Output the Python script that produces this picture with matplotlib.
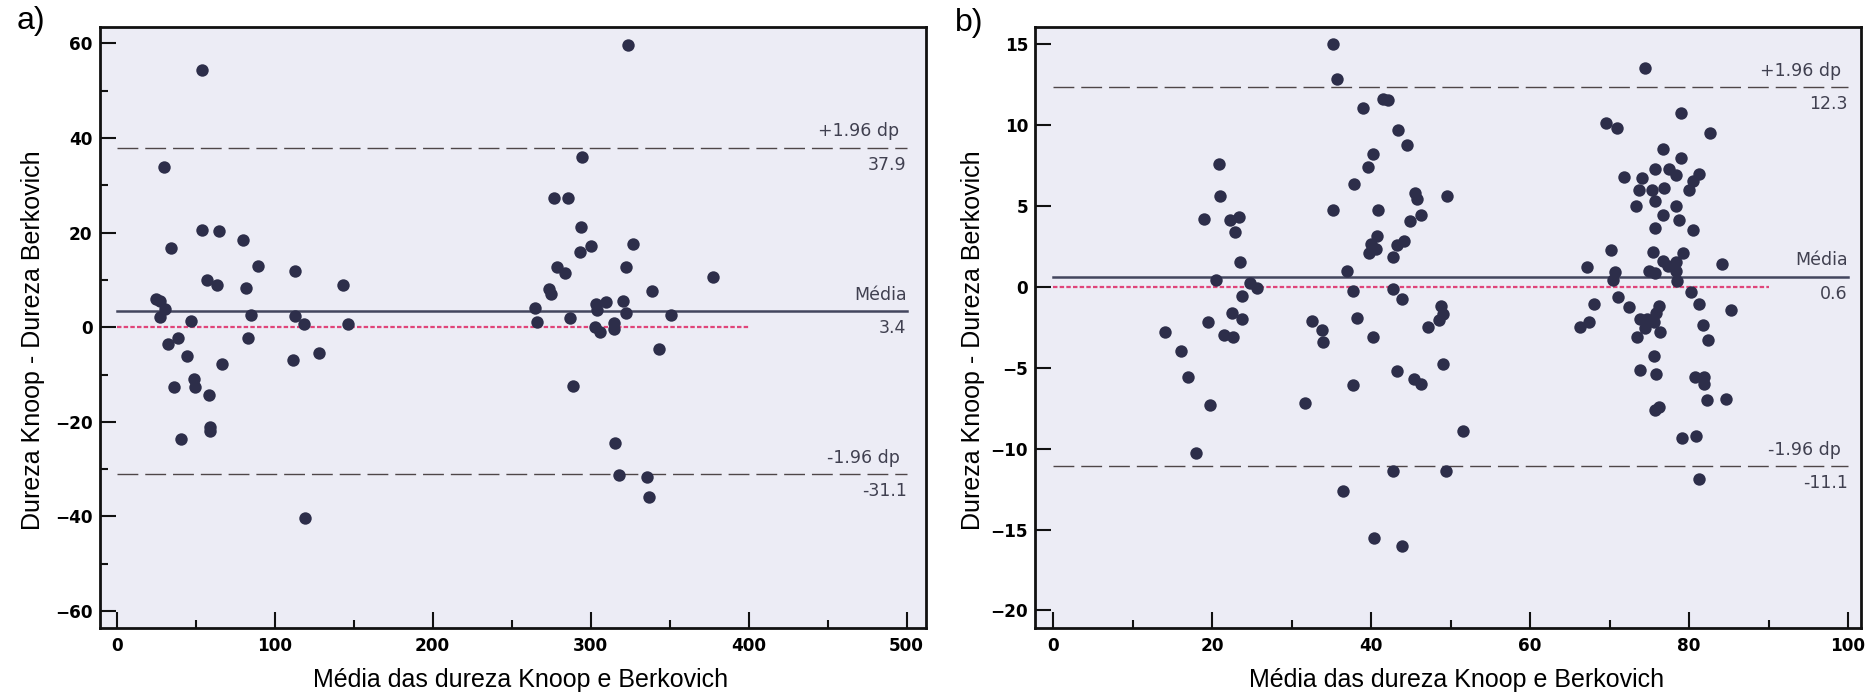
import numpy as np
import matplotlib.pyplot as plt
from matplotlib.ticker import MultipleLocator

# Panel a) - Bland-Altman, whole range
xa = [54.2, 29.9, 34.2, 54.2, 64.8, 80.2, 89.4, 112.7, 143.5, 57.4, 63.7, 82.1,
      24.7, 27.4, 30.6, 27.8, 46.8, 85.3, 112.7, 118.6, 146.4, 32.5, 38.8, 83.5,
      44.7, 66.9, 111.8, 128.3, 36.3, 48.9, 49.6, 58.6, 58.9, 58.9, 40.5, 119.4,
      323.6, 294.9, 276.9, 286.0, 294.0, 300.1, 293.4, 327.1, 279.0, 283.7, 322.5,
      377.8, 274.0, 274.8, 339.0, 264.9, 266.4, 287.0, 303.5, 303.9, 309.8, 320.8,
      322.5, 351.0, 302.9, 306.0, 314.9, 315.1, 343.6, 289.2, 315.2, 317.7, 335.9,
      337.1]
ya = [54.5, 33.8, 16.8, 20.6, 20.4, 18.5, 12.9, 11.9, 8.9, 10.1, 8.9, 8.4,
      5.9, 5.5, 3.8, 2.2, 1.4, 2.5, 2.3, 0.6, 0.6, -3.5, -2.2, -2.2,
      -6.1, -7.7, -7.0, -5.4, -12.7, -11.0, -12.7, -14.4, -21.1, -21.9, -23.6, -40.4,
      59.6, 35.9, 27.4, 27.4, 21.3, 17.2, 15.9, 17.6, 12.7, 11.4, 12.7,
      10.7, 8.1, 7.0, 7.7, 4.0, 1.2, 1.9, 4.9, 3.7, 5.4, 5.6,
      3.0, 2.5, 0.1, -1.0, -0.3, 1.0, -4.6, -12.5, -24.5, -31.3, -31.6,
      -35.8]
mean_a, upper_a, lower_a = 3.4, 37.9, -31.1

# Panel b)
xb = [14.1, 16.1, 17.0, 17.9, 19.0, 19.5, 19.7, 20.5, 20.8, 21.0, 21.5, 22.3,
      22.5, 22.6, 22.9, 23.4, 23.5, 23.7, 23.7, 24.8, 25.6, 31.7, 32.5, 33.8, 34.0,
      35.2, 35.7, 41.5, 42.1, 39.0, 43.4, 44.5, 40.2, 39.6, 37.8, 35.2, 40.9,
      45.5, 45.8, 49.5, 44.9, 46.3, 40.7, 40.0, 40.6, 39.7, 44.1, 43.3, 42.7,
      36.9, 37.7, 42.7, 43.9, 38.2, 40.2, 48.8, 49.1, 48.5, 47.1, 49.1, 43.2,
      45.4, 46.3, 37.7, 51.5, 42.8, 43.9, 40.3, 36.4, 49.4,
      74.4, 79.0, 69.6, 70.9, 82.6, 76.7, 79.0, 75.7, 77.5, 78.4, 81.3, 80.5,
      71.8, 74.1, 80.0, 73.7, 75.3, 76.9, 75.7, 73.3, 78.3, 76.7, 78.7, 75.7,
      80.5, 70.2, 75.5, 79.3, 67.2, 84.2, 76.7, 77.4, 78.4, 70.7, 75.0, 75.7,
      78.4, 70.4, 78.5, 80.2, 71.1, 68.1, 72.5, 81.3, 85.3, 76.2, 75.9, 67.4,
      66.3, 73.8, 74.7, 75.6, 74.4, 76.3, 73.5, 81.7, 82.4, 75.6, 73.8, 75.9,
      80.7, 81.9, 81.9, 82.3, 84.6, 75.7, 76.2, 79.1, 80.9, 81.2]
yb = [-2.8, -4.0, -5.6, -10.3, 4.2, -2.2, -7.3, 0.4, 7.6, 5.6, -3.0, 4.1,
      -1.6, -3.1, 3.4, 4.3, 1.5, -0.6, -2.0, 0.2, -0.1, -7.2, -2.1, -2.7, -3.4,
      15.0, 12.8, 11.6, 11.55, 11.0, 9.7, 8.73, 8.2, 7.4, 6.35, 4.74, 4.74,
      5.8, 5.4, 5.6, 4.08, 4.4, 3.1, 2.64, 2.33, 2.06, 2.8, 2.58, 1.81,
      0.99, -0.29, -0.15, -0.79, -1.94, -3.1, -1.2, -1.7, -2.07, -2.48, -4.8, -5.2,
      -5.72, -6.03, -6.1, -8.9, -11.4, -16.0, -15.5, -12.6, -11.4,
      13.5, 10.7, 10.1, 9.8, 9.5, 8.5, 7.96, 7.26, 7.26, 6.87, 6.93, 6.5,
      6.77, 6.7, 5.98, 5.96, 5.94, 6.07, 5.3, 4.97, 4.97, 4.4, 4.1, 3.6,
      3.5, 2.27, 2.14, 2.06, 1.24, 1.4, 1.57, 1.28, 1.5, 0.9, 0.99, 0.87,
      0.99, 0.41, 0.37, -0.35, -0.62, -1.08, -1.28, -1.08, -1.45, -1.2, -1.6, -2.21,
      -2.5, -2.0, -2.0, -2.21, -2.56, -2.83, -3.1, -2.38, -3.3, -4.27, -5.16, -5.4,
      -5.58, -5.58, -6.0, -7.0, -6.96, -7.64, -7.43, -9.33, -9.23, -11.9]
mean_b, upper_b, lower_b = 0.6, 12.3, -11.1

bg = '#ececf5'
dot = '#2d2e4a'
txt = '#404050'
W, H = 1866, 698

fig = plt.figure(figsize=(W / 100, H / 100), dpi=100)
ax1 = fig.add_axes([99.5 / W, 1 - 627.5 / H, 826 / W, 600.8 / H])
ax2 = fig.add_axes([1035 / W, 1 - 627.5 / H, 825.7 / W, 600.8 / H])


def bland_altman(ax, x, y, mean, upper, lower, xmax, zero_end):
    ax.set_facecolor(bg)
    ax.scatter(x, y, s=80, color=dot, lw=0, zorder=4)
    ax.plot([0, xmax], [mean, mean], color='#43465e', lw=1.8, zorder=3)
    for v in (upper, lower):
        ax.plot([0, xmax], [v, v], color='#4e4648', lw=1.0, dashes=(15, 5), zorder=2)
    ax.plot([0, zero_end], [0, 0], color='#e0457a', lw=1.6, dashes=(2, 1), zorder=2)
    # labels at the right end of the lines
    for v, top, bottom in ((upper, '+1.96 dp', f'{upper:.1f}'),
                           (mean, 'Média', f'{mean:.1f}'),
                           (lower, '-1.96 dp', f'{lower:.1f}')):
        dx = 0 if top == 'Média' else -5
        ax.annotate(top, (xmax, v), xytext=(dx, 12), textcoords='offset points',
                    ha='right', va='center', fontsize=12.5, color=txt,
                    family='DejaVu Sans')
        ax.annotate(bottom, (xmax, v), xytext=(0, -12), textcoords='offset points',
                    ha='right', va='center', fontsize=12.5, color=txt,
                    family='DejaVu Sans')
    for s in ax.spines.values():
        s.set_linewidth(2.0)
        s.set_color('#111111')
    ax.tick_params(which='both', direction='in', top=False, right=False,
                   width=1.5, color='#111111')
    ax.tick_params(which='major', length=11.5)
    ax.tick_params(which='minor', length=5.8)
    ax.tick_params(axis='y', pad=5)
    ax.tick_params(axis='x', pad=7)
    for lab in ax.get_xticklabels() + ax.get_yticklabels():
        lab.set_fontfamily('DejaVu Sans')
        lab.set_fontweight('bold')
        lab.set_fontsize(12.2)
    ax.set_xlabel('Média das dureza Knoop e Berkovich', fontsize=18,
                  family='Liberation Sans')
    ax.set_ylabel('Dureza Knoop - Dureza Berkovich', fontsize=18,
                  family='Liberation Sans')
    ax.xaxis.set_label_coords(0.51, -0.087)
    ax.xaxis.label.set_verticalalignment('center')
    ax.yaxis.label.set_verticalalignment('center')


ax1.set_xlim(-10.8, 512)
ax1.set_ylim(-63.47, 63.55)
ax1.xaxis.set_major_locator(MultipleLocator(100))
ax1.xaxis.set_minor_locator(MultipleLocator(50))
ax1.yaxis.set_major_locator(MultipleLocator(20))
ax1.yaxis.set_minor_locator(MultipleLocator(10))
bland_altman(ax1, xa, ya, mean_a, upper_a, lower_a, 500, 400)
ax1.yaxis.set_label_coords(-0.08, 0.478)

ax2.set_xlim(-2.3, 101.6)
ax2.set_ylim(-21.05, 16.05)
ax2.xaxis.set_major_locator(MultipleLocator(20))
ax2.xaxis.set_minor_locator(MultipleLocator(10))
ax2.yaxis.set_major_locator(MultipleLocator(5))
bland_altman(ax2, xb, yb, mean_b, upper_b, lower_b, 100, 90)
ax2.yaxis.set_label_coords(-0.075, 0.478)

fig.text(17 / W, 1 - 6 / H, 'a)', fontsize=23, family='Liberation Sans', va='top')
fig.text(955 / W, 1 - 8 / H, 'b)', fontsize=23, family='Liberation Sans', va='top')

fig.savefig('out.png', dpi=100, facecolor='white')
